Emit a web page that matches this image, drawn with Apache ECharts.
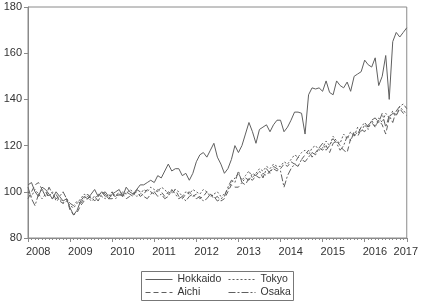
<!DOCTYPE html>
<html>
<head>
<meta charset="utf-8">
<script src="https://cdn.jsdelivr.net/npm/echarts@6/dist/echarts.min.js"></script>
<style>
  html, body { margin: 0; padding: 0; background: #fff; }
  #chart { width: 421px; height: 303px; }
</style>
</head>
<body>
<div id="chart"></div>
<script>
// monthly index, 2008-01 .. 2017-01
var years = [2008, 2009, 2010, 2011, 2012, 2013, 2014, 2015, 2016, 2017];
var months = [];
years.forEach(function (y) {
  for (var m = 1; m <= 12; m++) {
    if (y === 2017 && m > 1) break;
    months.push(y + '-' + (m < 10 ? '0' + m : m));
  }
});

var hokkaido = [
  103, 104, 100, 98, 102, 101, 99, 97, 100, 98, 96, 97,
  93, 90, 92, 96, 98, 97, 99, 101, 98, 100, 99, 97,
  99, 100, 101, 98, 102, 100, 99, 101, 103, 103, 104, 105,
  104, 107, 106, 109, 112, 109, 110, 110, 107, 108, 105, 108,
  113, 116, 117, 115, 118, 121, 115, 112, 108, 110, 114, 120,
  117, 120, 125, 130, 126, 121, 127, 128, 129, 126, 129, 131,
  131, 126, 128, 131, 134.5, 134.5, 134, 125, 142, 145, 144.5, 145,
  143.5, 148, 143, 142, 148, 146, 145, 147.5, 143.5, 150, 151, 152,
  157, 155, 154, 158, 146, 150, 159, 140, 165, 169, 167, 169,
  171
];
var tokyo = [
  100, 98, 101, 99, 97, 99, 98, 100, 96, 97, 95, 96,
  94, 93, 95, 97, 99, 98, 96, 97, 99, 98, 97, 99,
  98, 99, 98, 100, 99, 101, 100, 98, 99, 101, 100, 102,
  101, 100, 102, 101, 99, 100, 101, 100, 98, 100, 99, 101,
  100, 99, 101, 100, 98, 99, 100, 98, 99, 101, 104, 106,
  108, 105, 107, 109, 106, 108, 110, 109, 111, 110, 112, 111,
  111, 113, 112, 114, 116, 115, 117, 118, 116, 119, 120, 118,
  119, 122, 120, 124, 122, 121, 125, 123, 126, 124, 128, 126,
  129, 127, 131, 128, 132, 130, 134, 132, 135, 133, 137, 135,
  134
];
var aichi = [
  97, 100, 103, 104, 101, 100, 98, 97, 99, 96, 95, 97,
  92, 90, 91, 94, 96, 97, 98, 96, 98, 100, 98, 97,
  97, 98, 100, 99, 97, 98, 99, 100, 98, 99, 101, 100,
  99, 101, 100, 98, 100, 99, 101, 98, 97, 99, 100, 98,
  99, 97, 98, 100, 99, 97, 98, 96, 97, 100, 103, 102,
  102, 104, 103, 106, 105, 107, 106, 108, 107, 109, 110, 109,
  110, 112, 111, 113, 112, 115, 114, 116, 118, 115, 117, 119,
  118, 120, 117, 121, 122, 120, 118, 117, 123, 125, 124, 127,
  126, 129, 130, 128, 131, 129, 125, 132, 134, 133, 136, 134,
  133
];
var osaka = [
  102, 97, 94, 99, 101, 98, 102, 99, 97, 98, 100, 97,
  95, 94, 96, 95, 97, 99, 97, 98, 96, 99, 100, 98,
  100, 97, 99, 98, 100, 99, 98, 101, 100, 98, 97, 99,
  100, 98, 99, 97, 98, 101, 99, 97, 98, 96, 98, 99,
  97, 98, 96, 97, 99, 98, 96, 97, 98, 102, 105, 104,
  109, 104, 106, 105, 108, 107, 109, 106, 110, 108, 111, 110,
  109, 102, 107, 110, 112, 111, 114, 113, 115, 117, 116, 119,
  121, 118, 120, 123, 121, 118, 120, 124, 122, 126, 125, 128,
  130, 128, 131, 132, 130, 134, 128, 133, 130, 135, 137, 138,
  136
];

var yTicks = [80, 100, 120, 140, 160, 180];

var lineColor = '#5f5f5f';
var axisColor = '#8a8a8a';
var font = 'Liberation Sans, Arial, sans-serif';

function isJan(index, value) {
  return String(value).slice(5) === '01';
}

function mkSeries(name, data, type) {
  return {
    name: name,
    type: 'line',
    data: data,
    symbol: 'none',
    animation: false,
    lineStyle: { color: lineColor, width: 1, type: type },
    itemStyle: { color: lineColor }
  };
}

function mkLegend(left, names) {
  return {
    orient: 'vertical', left: left, top: 274, padding: 0,
    itemWidth: 27, itemHeight: 12, itemGap: 2,
    itemStyle: { opacity: 0 },
    lineStyle: { width: 1 },
    textStyle: { fontFamily: font, fontSize: 10.5, color: '#333' },
    data: names
  };
}

var chart = echarts.init(document.getElementById('chart'));
chart.setOption({
  animation: false,
  grid: {
    left: 28, right: 12, top: 7, bottom: 65,
    show: true, borderColor: axisColor, borderWidth: 1
  },
  legend: [mkLegend(145, ['Hokkaido', 'Aichi']), mkLegend(228, ['Tokyo', 'Osaka'])],
  graphic: [{
    type: 'rect',
    shape: { x: 141.5, y: 271.5, width: 152, height: 29 },
    style: { fill: 'none', stroke: '#777', lineWidth: 1 }
  }],
  xAxis: [{
    type: 'category',
    data: months,
    boundaryGap: false,
    position: 'bottom',
    axisLine: { lineStyle: { color: axisColor } },
    axisTick: { interval: isJan, length: 4, lineStyle: { color: axisColor } },
    axisLabel: {
      interval: isJan,
      formatter: function (v) { return v.slice(0, 4); },
      align: 'left', alignMaxLabel: 'center',
      margin: 8, padding: [0, 0, 0, -2],
      fontFamily: font, fontSize: 11, color: '#333'
    },
    splitLine: { show: false }
  }, {
    type: 'category',
    data: months,
    boundaryGap: false,
    position: 'bottom',
    axisLine: { show: false },
    axisTick: { interval: 0, length: 2, lineStyle: { color: axisColor } },
    axisLabel: { show: false },
    splitLine: { show: false }
  }],
  yAxis: {
    type: 'value',
    min: yTicks[0],
    max: yTicks[yTicks.length - 1],
    interval: 20,
    axisLine: { show: true, lineStyle: { color: axisColor } },
    axisTick: { show: true, length: 4, lineStyle: { color: axisColor } },
    axisLabel: { margin: 6, fontFamily: font, fontSize: 11, color: '#333' },
    splitLine: { show: false }
  },
  series: [
    mkSeries('Hokkaido', hokkaido, 'solid'),
    mkSeries('Tokyo', tokyo, [2, 2]),
    mkSeries('Aichi', aichi, [5, 3]),
    mkSeries('Osaka', osaka, [7, 2, 2, 2])
  ]
});
</script>
</body>
</html>
